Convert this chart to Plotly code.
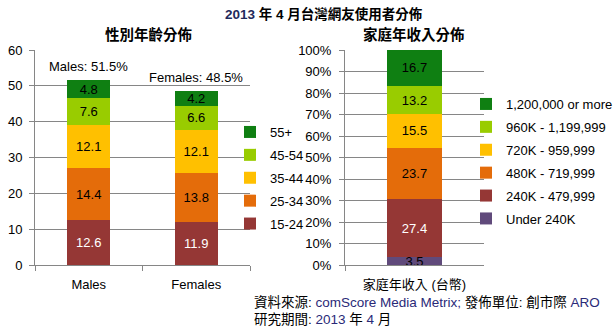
import plotly.graph_objects as go

# ---------------- data ----------------
genders = ["Males", "Females"]
age_groups = ["15-24", "25-34", "35-44", "45-54", "55+"]
age_15_24 = [12.6, 11.9]
age_25_34 = [14.4, 13.8]
age_35_44 = [12.1, 12.1]
age_45_54 = [7.6, 6.6]
age_55_plus = [4.8, 4.2]
gender_share_labels = ["Males: 51.5%", "Females: 48.5%"]

income_category = ["家庭年收入 (台幣)"]
income_groups = ["Under 240K", "240K - 479,999", "480K - 719,999",
                 "720K - 959,999", "960K - 1,199,999", "1,200,000 or more"]
income_under_240k = [3.5]
income_240k_480k = [27.4]
income_480k_720k = [23.7]
income_720k_960k = [15.5]
income_960k_1200k = [13.2]
income_1200k_plus = [16.7]

# ---------------- styles ----------------
C_RED = "#953735"
C_ORANGE = "#e46c0a"
C_YELLOW = "#ffc000"
C_LGREEN = "#99cc00"
C_DGREEN = "#0f7f12"
C_PURPLE = "#604a7b"
GRID = "#868686"
FONT = "Arial, 'Liberation Sans', 'Noto Sans CJK TC', sans-serif"
W, H = 615, 333

def px_x(p):
    return p / W

def px_y(p):
    return 1 - p / H

fig = go.Figure()

age_series = [age_15_24, age_25_34, age_35_44, age_45_54, age_55_plus]
age_colors = [C_RED, C_ORANGE, C_YELLOW, C_LGREEN, C_DGREEN]
age_text_colors = ["white", "black", "black", "black", "black"]
for i, (name, vals, col, tcol) in enumerate(zip(age_groups, age_series, age_colors, age_text_colors)):
    fig.add_trace(go.Bar(
        x=genders, y=vals, name=name, marker=dict(color=col, line=dict(width=0)),
        text=[f"{v:.1f}" for v in vals], textposition="inside",
        insidetextanchor="middle", constraintext="none",
        textfont=dict(color=tcol, size=13, family=FONT),
        xaxis="x", yaxis="y", legend="legend", legendgroup="age" + name,
        legendrank=100 - i, hoverinfo="skip",
    ))

income_series = [income_under_240k, income_240k_480k, income_480k_720k,
                 income_720k_960k, income_960k_1200k, income_1200k_plus]
income_colors = [C_PURPLE, C_RED, C_ORANGE, C_YELLOW, C_LGREEN, C_DGREEN]
income_text_colors = ["black", "white", "black", "black", "black", "black"]
for i, (name, vals, col, tcol) in enumerate(zip(income_groups, income_series, income_colors, income_text_colors)):
    fig.add_trace(go.Bar(
        x=income_category, y=vals, name=name, marker=dict(color=col, line=dict(width=0)),
        text=[f"{v:.1f}" for v in vals], textposition="inside",
        insidetextanchor="middle", constraintext="none",
        textfont=dict(color=tcol, size=13, family=FONT),
        xaxis="x2", yaxis="y2", legend="legend2", legendgroup="inc" + name,
        legendrank=100 - i, hoverinfo="skip",
    ))

# gender share labels above stacks
totals = [sum(v) for v in zip(*age_series)]
annotations = []
for g, t, lab in zip(genders, totals, gender_share_labels):
    annotations.append(dict(x=g, y=t, xref="x", yref="y", text=lab, showarrow=False,
                            xanchor="center", yanchor="bottom", yshift=4,
                            font=dict(size=13, color="black", family=FONT)))

# titles
annotations.append(dict(x=px_x(324), y=px_y(14), xref="paper", yref="paper", showarrow=False,
                        xanchor="center", yanchor="middle",
                        text="<b><span style='color:#1f2a5c'>2013</span> 年 4 月台灣網友使用者分佈</b>",
                        font=dict(size=13.5, color="black", family=FONT)))
annotations.append(dict(x=px_x(149), y=px_y(35), xref="paper", yref="paper", showarrow=False,
                        xanchor="center", yanchor="middle",
                        text="<b>性別年齡分佈</b>", font=dict(size=14.5, color="black", family=FONT)))
annotations.append(dict(x=px_x(414), y=px_y(35), xref="paper", yref="paper", showarrow=False,
                        xanchor="center", yanchor="middle",
                        text="<b>家庭年收入分佈</b>", font=dict(size=14.5, color="black", family=FONT)))
# source notes
annotations.append(dict(x=px_x(252), y=px_y(302), xref="paper", yref="paper", showarrow=False,
                        xanchor="left", yanchor="middle",
                        text="資料來源: <span style='color:#2a2a78'>comScore Media Metrix;</span> 發佈單位: 創市際 <span style='color:#2a2a78'>ARO</span>",
                        font=dict(size=13.5, color="black", family=FONT)))
annotations.append(dict(x=px_x(252), y=px_y(319), xref="paper", yref="paper", showarrow=False,
                        xanchor="left", yanchor="middle",
                        text="研究期間: <span style='color:#2a2a78'>2013</span> 年 <span style='color:#2a2a78'>4</span> 月",
                        font=dict(size=13.5, color="black", family=FONT)))

axis_common = dict(showline=True, linecolor=GRID, linewidth=1, ticks="outside",
                   tickcolor=GRID, ticklen=5, tickfont=dict(size=13, color="black", family=FONT),
                   zeroline=False, fixedrange=True, automargin=False)

fig.update_layout(
    width=W, height=H, margin=dict(l=0, r=0, t=0, b=0, autoexpand=False),
    paper_bgcolor="white", plot_bgcolor="white",
    barmode="stack", bargap=0.6,
    font=dict(family=FONT, size=13, color="black"),
    xaxis=dict(domain=[px_x(35), px_x(250)], anchor="y", tickson="boundaries",
               showgrid=False, ticklabelstandoff=7, **axis_common),
    yaxis=dict(domain=[px_y(265), px_y(50)], anchor="x", range=[0, 60], dtick=10,
               showgrid=True, gridcolor=GRID, gridwidth=1, ticklabelstandoff=4, **axis_common),
    xaxis2=dict(domain=[px_x(345), px_x(484)], anchor="y2", tickson="boundaries",
                showgrid=False, ticklabelstandoff=7, **axis_common),
    yaxis2=dict(domain=[px_y(265), px_y(50)], anchor="x2", range=[0, 100], dtick=10,
                ticksuffix="%", showgrid=True, gridcolor=GRID, gridwidth=1,
                ticklabelstandoff=5, **axis_common),
    legend=dict(x=px_x(230), y=px_y(117), xanchor="left", yanchor="top",
                traceorder="grouped", tracegroupgap=3,
                font=dict(size=13, family=FONT, color="black"), bgcolor="rgba(0,0,0,0)"),
    legend2=dict(x=px_x(466), y=px_y(89), xanchor="left", yanchor="top",
                 traceorder="grouped", tracegroupgap=3,
                 font=dict(size=13, family=FONT, color="black"), bgcolor="rgba(0,0,0,0)"),
    annotations=annotations,
    showlegend=True,
)

fig.write_html("out.html")
